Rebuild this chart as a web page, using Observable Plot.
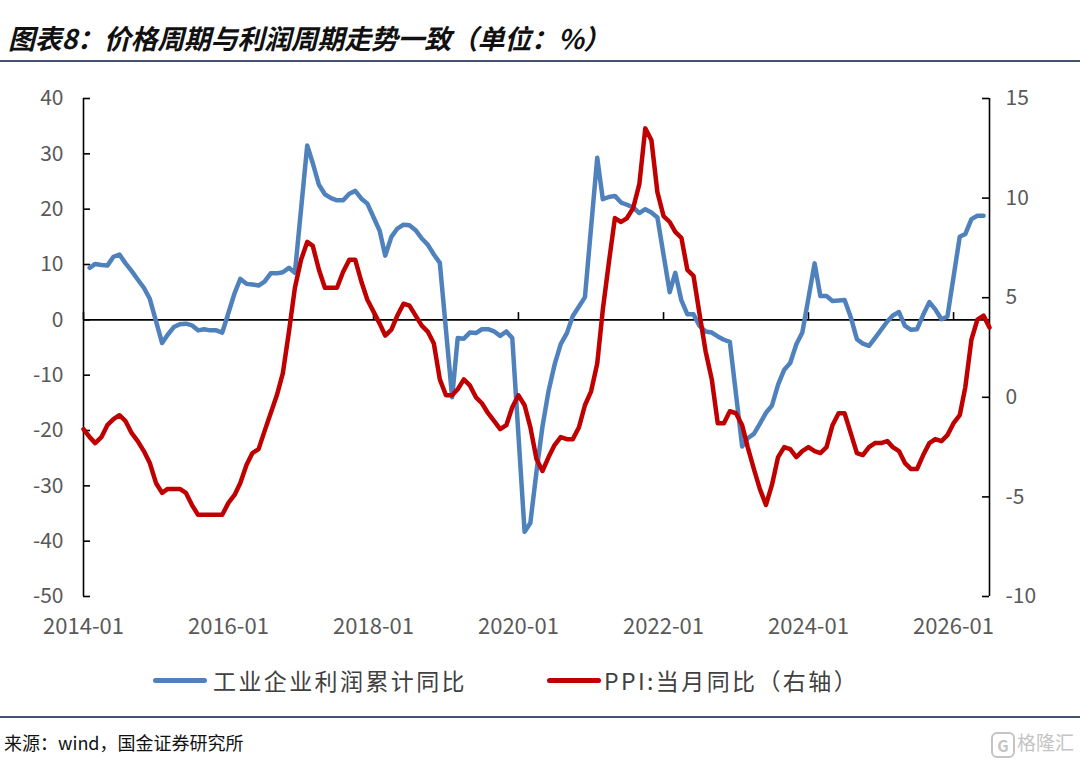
<!DOCTYPE html>
<html>
<head>
<meta charset="utf-8">
<script src="https://cdn.jsdelivr.net/npm/d3@7"></script>
<script src="https://cdn.jsdelivr.net/npm/@observablehq/plot@0.6"></script>
<style>
  html, body { margin: 0; padding: 0; background: #fff; }
  body { width: 1080px; height: 761px; position: relative; overflow: hidden; font-family: "Noto Sans CJK SC", "Noto Sans", sans-serif; }
  #title { position: absolute; left: 0; top: 0; width: 1080px; height: 60px; border-bottom: 2px solid #44546a; }
  #title span { position: absolute; left: 8px; top: 24px; font-size: 27px; line-height: 1; font-weight: bold; font-style: italic; color: #111; white-space: nowrap; letter-spacing: -0.3px; }
  #chart { position: absolute; left: 0; top: 62px; }
  #legend { position: absolute; left: 0; top: 650px; width: 1080px; height: 66px; border-bottom: 2px solid #44546a; }
  .sw { position: absolute; top: 28px; width: 54px; height: 5px; border-radius: 3px; }
  .lt { position: absolute; top: 16px; font-size: 23px; line-height: 28px; letter-spacing: 2.4px; color: #404040; white-space: nowrap; }
  #source { position: absolute; left: 4px; top: 731px; font-size: 18px; line-height: 22px; color: #111; white-space: nowrap; }
  #mark { position: absolute; right: 6px; top: 729px; font-size: 19px; line-height: 26px; color: #c4c4c4; white-space: nowrap; }
  #mark b { display: inline-block; border: 2px solid #c4c4c4; border-radius: 6px; width: 20px; height: 22px; line-height: 22px; text-align: center; font-size: 16px; margin-right: 2px; vertical-align: middle; }
</style>
</head>
<body>
<div id="title"><span>图表8：价格周期与利润周期走势一致（单位：%）</span></div>
<div id="chart"></div>
<div id="legend"></div>
<div id="source">来源：wind，国金证券研究所</div>
<div id="mark"><b>G</b>格隆汇</div>
<script>
// ---- Data (monthly, 2014-01 onward) ----
// 工业企业利润累计同比 (%), left axis; January has no cumulative figure (null)
const profitYoY = [
  null, 9.4, 10.1, 9.9, 9.8, 11.4, 11.8, 10.2, 8.8, 7.3, 5.8, 3.8,          // 2014
  null, -4.2, -2.7, -1.3, -0.8, -0.7, -1.0, -1.9, -1.7, -1.9, -1.9, -2.3,   // 2015
  null, 4.8, 7.4, 6.5, 6.4, 6.2, 6.9, 8.4, 8.4, 8.6, 9.4, 8.5,              // 2016
  null, 31.5, 28.3, 24.4, 22.7, 22.0, 21.6, 21.6, 22.8, 23.3, 21.9, 21.0,   // 2017
  null, 16.1, 11.6, 15.0, 16.5, 17.2, 17.1, 16.2, 14.7, 13.6, 11.8, 10.3,   // 2018
  null, -14.0, -3.3, -3.4, -2.3, -2.4, -1.7, -1.7, -2.1, -2.9, -2.1, -3.3,  // 2019
  null, -38.3, -36.7, -27.4, -19.3, -12.8, -8.1, -4.4, -2.4, 0.7, 2.4, 4.1, // 2020
  null, 29.3, 21.8, 22.2, 22.4, 21.2, 20.8, 20.3, 19.3, 20.0, 19.4, 18.5,   // 2021
  null, 5.0, 8.5, 3.5, 1.0, 1.0, -1.1, -2.1, -2.3, -3.0, -3.6, -4.0,        // 2022
  null, -22.9, -21.4, -20.6, -18.8, -16.8, -15.5, -11.7, -9.0, -7.8, -4.4, -2.3, // 2023
  null, 10.2, 4.3, 4.3, 3.4, 3.5, 3.6, 0.5, -3.5, -4.3, -4.7, -3.3,         // 2024
  null, -0.3, 0.8, 1.4, -1.1, -1.8, -1.7, 0.9, 3.2, 1.9, 0.1, 0.6,          // 2025
  null, 15.0, 15.5, 18.2, 18.8, 18.8                                        // 2026
];
// PPI:当月同比 (%), right axis
const ppiYoY = [
  -1.6, -2.0, -2.3, -2.0, -1.4, -1.1, -0.9, -1.2, -1.8, -2.2, -2.7, -3.3,   // 2014
  -4.3, -4.8, -4.6, -4.6, -4.6, -4.8, -5.4, -5.9, -5.9, -5.9, -5.9, -5.9,   // 2015
  -5.3, -4.9, -4.3, -3.4, -2.8, -2.6, -1.7, -0.8, 0.1, 1.2, 3.3, 5.5,       // 2016
  6.9, 7.8, 7.6, 6.4, 5.5, 5.5, 5.5, 6.3, 6.9, 6.9, 5.8, 4.9,               // 2017
  4.3, 3.7, 3.1, 3.4, 4.1, 4.7, 4.6, 4.1, 3.6, 3.3, 2.7, 0.9,               // 2018
  0.1, 0.1, 0.4, 0.9, 0.6, 0.0, -0.3, -0.8, -1.2, -1.6, -1.4, -0.5,         // 2019
  0.1, -0.4, -1.5, -3.1, -3.7, -3.0, -2.4, -2.0, -2.1, -2.1, -1.5, -0.4,    // 2020
  0.3, 1.7, 4.4, 6.8, 9.0, 8.8, 9.0, 9.5, 10.7, 13.5, 12.9, 10.3,           // 2021
  9.1, 8.8, 8.3, 8.0, 6.4, 6.1, 4.2, 2.3, 0.9, -1.3, -1.3, -0.7,            // 2022
  -0.8, -1.4, -2.5, -3.6, -4.6, -5.4, -4.4, -3.0, -2.5, -2.6, -3.0, -2.7,   // 2023
  -2.5, -2.7, -2.8, -2.5, -1.4, -0.8, -0.8, -1.8, -2.8, -2.9, -2.5, -2.3,   // 2024
  -2.3, -2.2, -2.5, -2.7, -3.3, -3.6, -3.6, -2.9, -2.3, -2.1, -2.2, -1.9,   // 2025
  -1.3, -0.9, 0.5, 2.9, 3.9, 4.1, 3.5                                       // 2026
];
const seriesNames = ["工业企业利润累计同比", "PPI:当月同比（右轴）"];
const seriesColors = ["#4f81bd", "#c00000"];
const xTickLabels = ["2014-01", "2016-01", "2018-01", "2020-01", "2022-01", "2024-01", "2026-01"];
const leftTicks = [-50, -40, -30, -20, -10, 0, 10, 20, 30, 40];
const rightTicks = [-10, -5, 0, 5, 10, 15];

// ---- Scales / helpers ----
const leftDomain = [-50, 40];
const rightDomain = [-10, 15];
const toLeft = v => leftDomain[0] + (v - rightDomain[0]) * (leftDomain[1] - leftDomain[0]) / (rightDomain[1] - rightDomain[0]);
const fromLeft = v => rightDomain[0] + (v - leftDomain[0]) * (rightDomain[1] - rightDomain[0]) / (leftDomain[1] - leftDomain[0]);

const parseMonth = d3.utcParse("%Y-%m");
const start = parseMonth("2014-01");
const end = parseMonth("2026-07");
const months = d3.utcMonth.range(start, d3.utcMonth.offset(end, 1));
const xTicks = xTickLabels.map(parseMonth);

const profitRows = months.map((date, i) => ({date, value: profitYoY[i]})).filter(d => d.value != null);
const ppiRows = months.map((date, i) => ({date, value: ppiYoY[i]})).filter(d => d.value != null);

const W = 1080, H = 588, mL = 83, mR = 91, mT = 36, mB = 54;
const plotW = W - mL - mR;
const tickLen = 7;
const axisFont = "'Noto Sans CJK SC', 'Noto Sans', sans-serif";

const chart = Plot.plot({
  width: W, height: H,
  marginLeft: mL, marginRight: mR, marginTop: mT, marginBottom: mB,
  style: {fontFamily: axisFont, fontSize: "21px", color: "#595959", background: "transparent", overflow: "visible"},
  x: {type: "utc", domain: [start, end]},
  y: {domain: leftDomain},
  marks: [
    Plot.ruleY([0], {stroke: "#000", strokeWidth: 1.6}),
    Plot.ruleX(xTicks, {y1: 0, y2: 1.3, stroke: "#000", strokeWidth: 1.6}),
    Plot.ruleX([start], {stroke: "#000", strokeWidth: 1.6}),
    Plot.ruleX([end], {stroke: "#000", strokeWidth: 1.6}),
    Plot.tickY(leftTicks, {y: d => d, insetRight: plotW - tickLen, stroke: "#000", strokeWidth: 1.6}),
    Plot.tickY(rightTicks.map(toLeft), {y: d => d, insetLeft: plotW - tickLen, stroke: "#000", strokeWidth: 1.6}),
    Plot.axisY(leftTicks, {anchor: "left", tickSize: 0, tickPadding: 20, label: null, tickFormat: d => String(d), fill: "#595959", fontSize: 21}),
    Plot.axisY(rightTicks.map(toLeft), {anchor: "right", tickSize: 0, tickPadding: 16, label: null, tickFormat: d => String(Math.round(fromLeft(d))), fill: "#595959", fontSize: 21}),
    Plot.axisX(xTicks, {anchor: "bottom", tickSize: 0, tickPadding: 22, label: null, tickFormat: d3.utcFormat("%Y-%m"), fill: "#595959", fontSize: 22}),
    Plot.line(profitRows, {x: "date", y: "value", stroke: seriesColors[0], strokeWidth: 4.5, strokeLinejoin: "round", strokeLinecap: "round"}),
    Plot.line(ppiRows, {x: "date", y: d => toLeft(d.value), stroke: seriesColors[1], strokeWidth: 4.5, strokeLinejoin: "round", strokeLinecap: "round"})
  ]
});
document.getElementById("chart").appendChild(chart);

// ---- Legend ----
const legend = document.getElementById("legend");
const legendPos = [{sw: 153, tx: 213}, {sw: 547, tx: 604}];
seriesNames.forEach((name, i) => {
  const sw = document.createElement("div");
  sw.className = "sw";
  sw.style.left = legendPos[i].sw + "px";
  sw.style.background = seriesColors[i];
  legend.appendChild(sw);
  const t = document.createElement("div");
  t.className = "lt";
  t.style.left = legendPos[i].tx + "px";
  t.textContent = name;
  legend.appendChild(t);
});
</script>
</body>
</html>
